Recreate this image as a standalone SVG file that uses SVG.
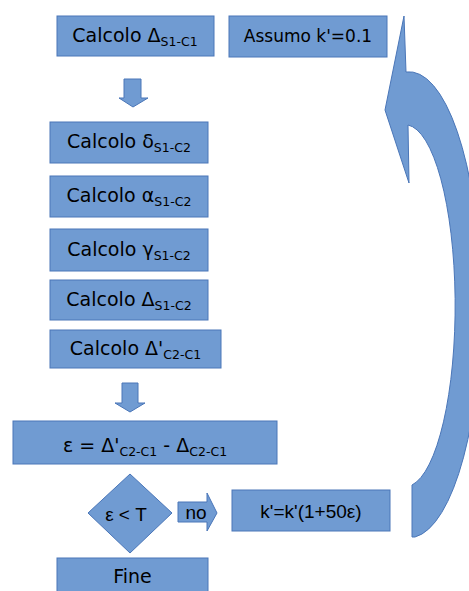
<svg xmlns="http://www.w3.org/2000/svg" width="469" height="591" viewBox="0 0 469 591">
<style>
.b{fill:#709bd2;stroke:#4a76b8;stroke-width:1}
.t{font-family:"DejaVu Sans",sans-serif;font-size:19px;fill:#000;text-anchor:middle}
.a{font-family:"Liberation Sans",Arial,sans-serif;font-size:19px;fill:#000;text-anchor:middle}
.s{font-size:12.5px}
</style>
<rect width="469" height="591" fill="#fff"/>
<g id="n1"><rect class="b" x="57" y="16" width="157" height="40"/><text class="t" x="135" y="42">Calcolo Δ<tspan class="s" dy="4">S1-C1</tspan></text></g>
<g id="n2"><rect class="b" x="229" y="16" width="158" height="41"/><text class="t" x="308" y="42" style="font-size:17px">Assumo k'=0.1</text></g>
<g id="n3"><rect class="b" x="50" y="122" width="158" height="41"/><text class="t" x="129" y="148">Calcolo δ<tspan class="s" dy="4">S1-C2</tspan></text></g>
<g id="n4"><rect class="b" x="50" y="176" width="158" height="41"/><text class="t" x="129" y="202">Calcolo α<tspan class="s" dy="4">S1-C2</tspan></text></g>
<g id="n5"><rect class="b" x="50" y="229" width="158" height="42"/><text class="t" x="129" y="256">Calcolo γ<tspan class="s" dy="4">S1-C2</tspan></text></g>
<g id="n6"><rect class="b" x="50" y="280" width="158" height="40"/><text class="t" x="129" y="306">Calcolo Δ<tspan class="s" dy="4">S1-C2</tspan></text></g>
<g id="n7"><rect class="b" x="50" y="330" width="171" height="38"/><text class="t" x="135.5" y="355">Calcolo Δ'<tspan class="s" dy="4">C2-C1</tspan></text></g>
<g id="n8"><rect class="b" x="13" y="421" width="264" height="43"/><text class="t" x="145" y="452">ε = Δ'<tspan class="s" dy="4">C2-C1</tspan><tspan dy="-4"> - Δ</tspan><tspan class="s" dy="4">C2-C1</tspan></text></g>
<g id="n9"><polygon class="b" points="130,474 172,513 130,553 88,513"/><text class="a" x="126" y="521">ε &lt; T</text></g>
<g id="n10"><rect class="b" x="232" y="490" width="158" height="41"/><text class="a" x="311" y="518">k'=k'(1+50ε)</text></g>
<g id="n11"><rect class="b" x="57" y="558" width="151" height="40"/><text class="t" x="132.5" y="583">Fine</text></g>
<g id="connectors">
<polygon class="b" points="124,79 141,79 141,98 148,98 133,107 119,98 124,98"/>
<polygon class="b" points="122,383 138,383 138,403 145,403 130,412 115,403 122,403"/>
<g id="no"><polygon class="b" points="178,502 207,502 207,493 217,513 207,531 207,522 178,522"/><text class="a" x="196" y="519">no</text></g>
<path class="b" d="M404 16 L406 72 A72 233 0 0 1 415 537 L412 537 L412 485 A50 181 0 0 0 408 125 L409 183 L385 110 Z"/>
</g>
</svg>
